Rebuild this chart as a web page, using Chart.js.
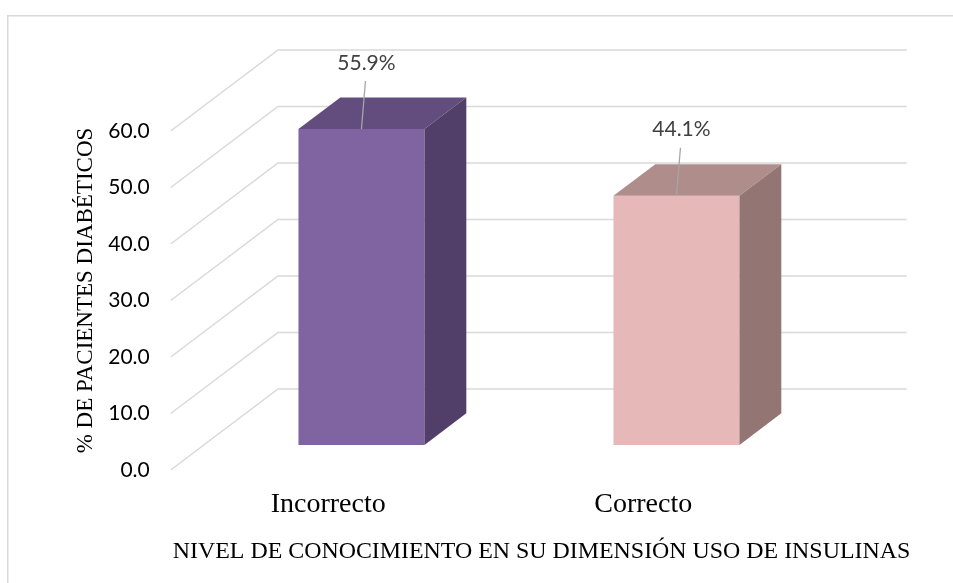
<!DOCTYPE html>
<html><head><meta charset="utf-8">
<script src="https://cdn.jsdelivr.net/npm/chart.js@4/dist/chart.umd.min.js"></script>
<style>html,body{margin:0;padding:0;background:#fff;overflow:hidden}#wrap{width:953px;height:583px;position:relative}canvas{display:block}</style>
</head><body><div id="wrap"><canvas id="c"></canvas></div>
<script>
// ---- data ----
const categories = ['Incorrecto', 'Correcto'];
const percentages = [55.9, 44.1];
const valueLabels = ['55.9%', '44.1%'];
const yTickValues = [0, 10, 20, 30, 40, 50, 60];
const yAxisTitle = '% DE PACIENTES DIABÉTICOS';
const xAxisTitle = 'NIVEL DE CONOCIMIENTO EN SU DIMENSIÓN USO DE INSULINAS';

// ---- styles ----
const frontColors = ['#8064A2', '#E6B9B8'];
const topColors = ['#624D7E', '#AF8D8A'];
const sideColors = ['#523F69', '#937674'];
const GRID = '#D9D9D9';
const DEPTH = {dx: 107.3, dy: -81};
const BAR_FRONT = 0.31, BAR_BACK = 0.70;

const bgPlugin = {
  id: 'bg',
  beforeDraw(chart) {
    const ctx = chart.ctx;
    ctx.save();
    ctx.fillStyle = '#fff';
    ctx.fillRect(0, 0, chart.width, chart.height);
    ctx.strokeStyle = GRID; ctx.lineWidth = 1.5;
    ctx.beginPath();
    ctx.moveTo(7.75, chart.height + 5);
    ctx.lineTo(7.75, 15.75);
    ctx.lineTo(chart.width + 5, 15.75);
    ctx.stroke();
    ctx.restore();
  }
};

const wallPlugin = {
  id: 'wall',
  beforeDatasetsDraw(chart) {
    const ctx = chart.ctx, yS = chart.scales.y, a = chart.chartArea;
    ctx.save();
    ctx.strokeStyle = GRID; ctx.lineWidth = 1.5;
    yTickValues.forEach(v => {
      const y = yS.getPixelForValue(v);
      ctx.beginPath();
      ctx.moveTo(a.left, y);
      ctx.lineTo(a.left + DEPTH.dx, y + DEPTH.dy);
      ctx.lineTo(a.right + DEPTH.dx - 1.3, y + DEPTH.dy);
      ctx.stroke();
    });
    ctx.restore();
  },
  beforeDatasetDraw(chart) {
    chart.ctx.save();
    chart.ctx.translate(BAR_FRONT * DEPTH.dx, BAR_FRONT * DEPTH.dy);
  },
  afterDatasetDraw(chart, args) {
    const ctx = chart.ctx;
    const ddx = (BAR_BACK - BAR_FRONT) * DEPTH.dx, ddy = (BAR_BACK - BAR_FRONT) * DEPTH.dy;
    args.meta.data.forEach((el, i) => {
      const p = el.getProps(['x', 'y', 'base', 'width'], true);
      const l = p.x - p.width / 2, r = p.x + p.width / 2;
      ctx.fillStyle = topColors[i];
      ctx.beginPath();
      ctx.moveTo(l, p.y); ctx.lineTo(l + ddx, p.y + ddy); ctx.lineTo(r + ddx, p.y + ddy); ctx.lineTo(r, p.y);
      ctx.closePath(); ctx.fill();
      ctx.fillStyle = sideColors[i];
      ctx.beginPath();
      ctx.moveTo(r, p.y); ctx.lineTo(r + ddx, p.y + ddy); ctx.lineTo(r + ddx, p.base + ddy); ctx.lineTo(r, p.base);
      ctx.closePath(); ctx.fill();
    });
    ctx.restore();
  },
  afterDatasetsDraw(chart) {
    const ctx = chart.ctx;
    const meta = chart.getDatasetMeta(0);
    ctx.save();
    meta.data.forEach((el, i) => {
      const p = el.getProps(['x', 'y'], true);
      const ax = p.x + BAR_FRONT * DEPTH.dx, ay = p.y + BAR_FRONT * DEPTH.dy;
      ctx.strokeStyle = '#A6A6A6'; ctx.lineWidth = 1.3;
      ctx.beginPath(); ctx.moveTo(ax + 4, ay - 48); ctx.lineTo(ax, ay); ctx.stroke();
      ctx.fillStyle = '#404040';
      ctx.font = '21px Lato';
      ctx.textAlign = 'center'; ctx.textBaseline = 'middle';
      ctx.fillText(valueLabels[i], ax + 5, ay - 66);
    });
    ctx.restore();
  },
  afterDraw(chart) {
    const ctx = chart.ctx;
    ctx.save();
    ctx.fillStyle = '#000';
    ctx.textAlign = 'center'; ctx.textBaseline = 'middle';
    ctx.font = '23px "Liberation Serif"';
    ctx.translate(86, 290.5); ctx.rotate(-Math.PI / 2);
    ctx.fillText(yAxisTitle, 0, 0);
    ctx.restore();
    ctx.save();
    ctx.fillStyle = '#000';
    ctx.textAlign = 'center'; ctx.textBaseline = 'middle';
    ctx.font = '23.9px "Liberation Serif"';
    ctx.fillText(xAxisTitle, 541.5, 552);
    ctx.restore();
  }
};

new Chart(document.getElementById('c'), {
  type: 'bar',
  data: {
    labels: categories,
    datasets: [{
      data: percentages,
      backgroundColor: frontColors,
      borderWidth: 0,
      barPercentage: 0.4,
      categoryPercentage: 1.0,
      clip: false
    }]
  },
  options: {
    responsive: true,
    maintainAspectRatio: false,
    animation: false,
    events: [],
    layout: {padding: {left: 0, top: 131, right: 152.3, bottom: 0}},
    plugins: {legend: {display: false}, tooltip: {enabled: false}, title: {display: false}},
    scales: {
      x: {
        grid: {display: false, drawTicks: false},
        border: {display: false},
        ticks: {color: '#000', font: {family: 'Liberation Serif', size: 28}, padding: 18},
        afterFit(s) { s.height = 113; }
      },
      y: {
        min: 0, max: 60,
        grid: {display: false, drawTicks: false},
        border: {display: false},
        afterBuildTicks(s) { s.ticks = yTickValues.map(v => ({value: v})); },
        ticks: {color: '#000', font: {family: 'Lato', size: 21}, padding: 21,
          callback: v => Number(v).toFixed(1)},
        afterFit(s) { s.width = 170.7; }
      }
    }
  },
  plugins: [bgPlugin, wallPlugin]
});
</script>
</body></html>
